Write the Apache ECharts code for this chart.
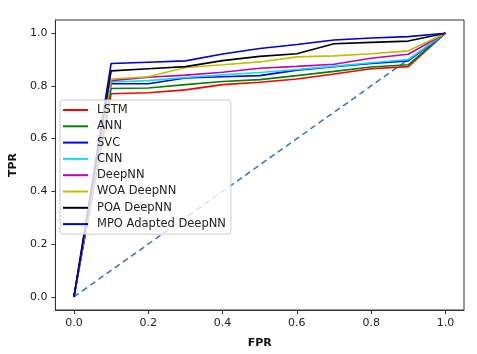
<!DOCTYPE html>
<html>
<head>
<meta charset="utf-8">
<script src="https://cdn.jsdelivr.net/npm/echarts@6/dist/echarts.min.js"></script>
<style>
  html, body { margin: 0; padding: 0; background: #fff; }
  #main { width: 477px; height: 354px; }
</style>
</head>
<body>
<div id="main"></div>
<script>
var fpr = [0, 0.1, 0.2, 0.3, 0.4, 0.5, 0.6, 0.7, 0.8, 0.9, 1.0]
var ticks = [0, 0.2, 0.4, 0.6, 0.8, 1.0]

var lstm    = [0, 0.770, 0.774, 0.785, 0.805, 0.814, 0.826, 0.845, 0.865, 0.873, 1.0]
var ann     = [0, 0.790, 0.792, 0.805, 0.817, 0.824, 0.839, 0.855, 0.872, 0.880, 1.0]
var svc     = [0, 0.808, 0.808, 0.830, 0.835, 0.839, 0.860, 0.873, 0.885, 0.895, 1.0]
var cnn     = [0, 0.815, 0.820, 0.832, 0.842, 0.851, 0.862, 0.874, 0.888, 0.900, 1.0]
var deepnn  = [0, 0.820, 0.833, 0.841, 0.852, 0.867, 0.874, 0.882, 0.905, 0.920, 1.0]
var woa     = [0, 0.826, 0.835, 0.870, 0.880, 0.891, 0.910, 0.914, 0.922, 0.933, 1.0]
var poa     = [0, 0.857, 0.865, 0.873, 0.896, 0.912, 0.922, 0.960, 0.965, 0.970, 1.0]
var mpo     = [0, 0.885, 0.890, 0.895, 0.921, 0.942, 0.957, 0.974, 0.982, 0.987, 1.0]
var chance  = [0, 1]

var names  = ['LSTM', 'ANN', 'SVC', 'CNN', 'DeepNN', 'WOA DeepNN', 'POA DeepNN', 'MPO Adapted DeepNN']
var values = [lstm, ann, svc, cnn, deepnn, woa, poa, mpo]
var colors = ['#ff0000', '#008000', '#0000ff', '#00e8e8', '#bf00bf', '#bfbf00', '#000000', '#0000cc']

function pairs(xs, ys) {
    var out = []
    for (var i = 0; i < ys.length; i++) {
        out.push([xs[i], ys[i]])
    }
    return out
}

var series = []
series.push({
    name: 'chance',
    type: 'line',
    data: pairs(chance, chance),
    symbol: 'none',
    silent: true,
    lineStyle: { color: '#3a73b0', width: 1.5, type: [6, 4] },
    z: 2
})
for (var k = 0; k < names.length; k++) {
    series.push({
        name: names[k],
        type: 'line',
        data: pairs(fpr, values[k]),
        symbol: 'none',
        color: colors[k],
        lineStyle: { color: colors[k], width: 1.6 },
        z: 2
    })
}

var font = 'DejaVu Sans'
var axisCommon = {
    type: 'value',
    min: -0.05, max: 1.05,
    nameLocation: 'middle',
    nameTextStyle: { fontFamily: font, fontSize: 11, fontWeight: 'bold', color: '#111' },
    axisLine: { show: true, onZero: false, lineStyle: { color: '#333', width: 1 } },
    splitLine: { show: false },
    axisTick: { show: true, length: 4, customValues: ticks, lineStyle: { color: '#333' } },
    axisLabel: {
        customValues: ticks, margin: 8,
        fontFamily: font, fontSize: 11, color: '#222',
        formatter: function (v) { return v.toFixed(1) }
    }
}

var myChart = echarts.init(document.getElementById('main'))
var option = {
    animation: false,
    backgroundColor: '#fff',
    textStyle: { fontFamily: font },
    grid: {
        left: 54, right: 13, top: 20, bottom: 41,
        show: true, borderColor: '#333', borderWidth: 1
    },
    legend: {
        data: names,
        orient: 'vertical',
        left: 60, top: 100,
        z: 20,
        padding: [4, 5, 4, 3],
        icon: 'rect',
        itemWidth: 25, itemHeight: 2,
        itemGap: 4.3,
        backgroundColor: 'rgba(255,255,255,0.8)',
        borderColor: '#ccc', borderWidth: 1, borderRadius: 3,
        textStyle: { fontFamily: font, fontSize: 11.5, color: '#222', lineHeight: 12, padding: [0, 0, 0, 4] }
    },
    xAxis: Object.assign({}, axisCommon, { name: 'FPR', nameGap: 28 }),
    yAxis: Object.assign({}, axisCommon, { name: 'TPR', nameGap: 30 }),
    series: series
}
myChart.setOption(option)
</script>
</body>
</html>
